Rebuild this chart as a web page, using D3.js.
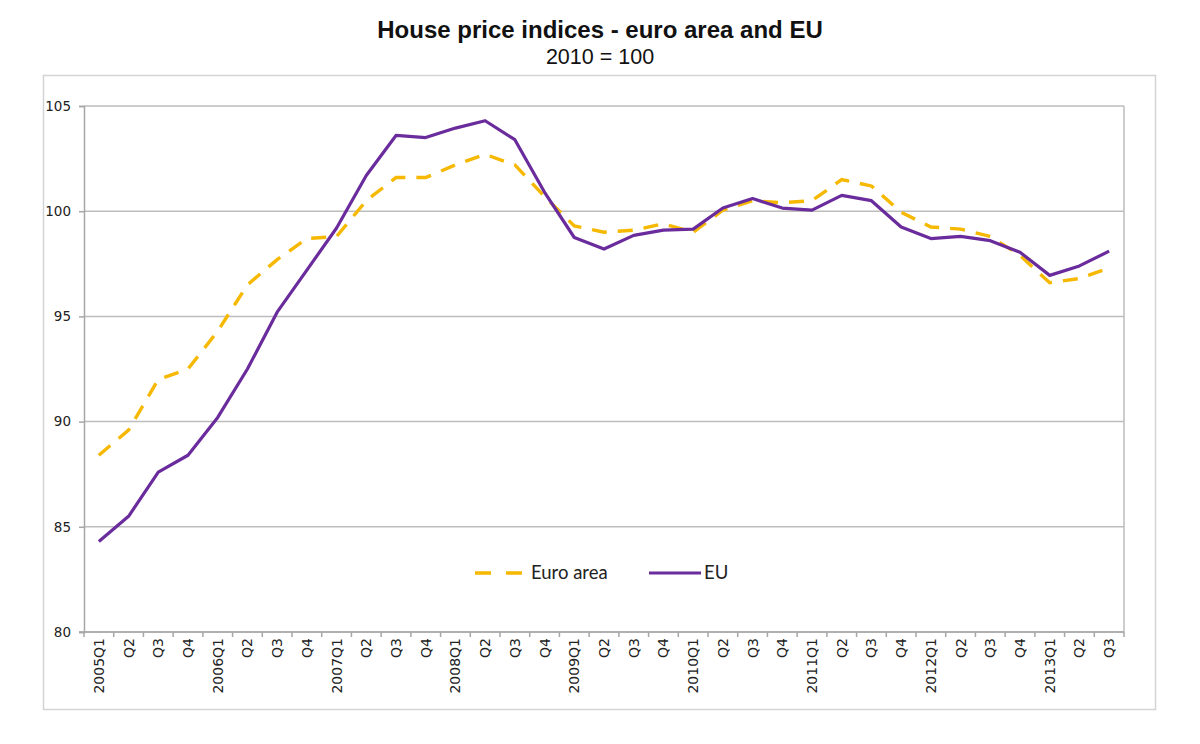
<!DOCTYPE html>
<html>
<head>
<meta charset="utf-8">
<script src="https://cdn.jsdelivr.net/npm/d3@7"></script>
<style>
  body { margin: 0; background: #fff; }
  svg { display: block; }
</style>
</head>
<body>
<div class="chart"></div>
<script>
// quarters 2005Q1 .. 2013Q3
var quarters = ["2005Q1","Q2","Q3","Q4","2006Q1","Q2","Q3","Q4","2007Q1","Q2","Q3","Q4",
  "2008Q1","Q2","Q3","Q4","2009Q1","Q2","Q3","Q4","2010Q1","Q2","Q3","Q4",
  "2011Q1","Q2","Q3","Q4","2012Q1","Q2","Q3","Q4","2013Q1","Q2","Q3"];

var euroArea = [88.4, 89.6, 92.0, 92.5, 94.3, 96.5, 97.7, 98.7, 98.8, 100.5, 101.6, 101.6,
  102.2, 102.7, 102.2, 100.7, 99.3, 99.0, 99.1, 99.4, 99.0, 100.05, 100.5, 100.4,
  100.5, 101.5, 101.2, 99.95, 99.25, 99.15, 98.8, 97.9, 96.6, 96.8, 97.3];

var eu = [84.3, 85.5, 87.6, 88.4, 90.2, 92.5, 95.2, 97.2, 99.2, 101.7, 103.6, 103.5,
  103.95, 104.3, 103.4, 100.9, 98.75, 98.2, 98.85, 99.1, 99.15, 100.15, 100.6, 100.15,
  100.05, 100.75, 100.5, 99.25, 98.7, 98.8, 98.6, 98.05, 96.95, 97.4, 98.1];

var yTicks = [80, 85, 90, 95, 100, 105];

var svgWidth = 1200;
var svgHeight = 744;

var plot = { left: 84, right: 1124, top: 106, bottom: 632 };
var tickFont = "'DejaVu Sans', Verdana, sans-serif";

var svg = d3.select(".chart")
  .append("svg")
  .attr("width", svgWidth)
  .attr("height", svgHeight);

// outer frame
svg.append("rect")
  .attr("x", 43.5).attr("y", 75.5)
  .attr("width", 1112).attr("height", 634)
  .attr("fill", "none")
  .attr("stroke", "#d4d4d4")
  .attr("stroke-width", 1.5);

// titles
svg.append("text")
  .attr("x", 600).attr("y", 38)
  .attr("text-anchor", "middle")
  .style("font-family", "Liberation Sans, Arial, sans-serif")
  .style("font-weight", "bold")
  .style("font-size", "24px")
  .attr("fill", "#111")
  .text("House price indices - euro area and EU");

svg.append("text")
  .attr("x", 600).attr("y", 64)
  .attr("text-anchor", "middle")
  .style("font-family", "Liberation Sans, Arial, sans-serif")
  .style("font-size", "21.5px")
  .attr("fill", "#111")
  .text("2010 = 100");

// scales
var xScale = d3.scaleBand()
  .domain(d3.range(quarters.length))
  .range([plot.left, plot.right])
  .padding(0);

var yScale = d3.scaleLinear()
  .domain([80, 105])
  .range([plot.bottom, plot.top]);

var xCenter = i => xScale(i) + xScale.bandwidth() / 2;

// gridlines
svg.append("g")
  .selectAll("line")
  .data(yTicks)
  .enter()
  .append("line")
  .attr("x1", plot.left).attr("x2", plot.right)
  .attr("y1", d => yScale(d)).attr("y2", d => yScale(d))
  .attr("stroke", "#bdbdbd")
  .attr("stroke-width", 1.5);

// right border of plot
svg.append("line")
  .attr("x1", plot.right).attr("x2", plot.right)
  .attr("y1", plot.top).attr("y2", plot.bottom)
  .attr("stroke", "#bdbdbd")
  .attr("stroke-width", 1.5);

// y axis
var leftAxis = d3.axisLeft(yScale)
  .tickValues(yTicks)
  .tickSize(5)
  .tickPadding(8);

var gy = svg.append("g")
  .attr("transform", `translate(${plot.left}, 0)`)
  .call(leftAxis);
gy.select(".domain").attr("stroke", "#a6a6a6").attr("stroke-width", 1.5);
gy.selectAll(".tick line").attr("stroke", "#a6a6a6").attr("stroke-width", 1.5);
gy.selectAll(".tick text")
  .style("font-family", tickFont)
  .style("font-size", "13.5px")
  .attr("fill", "#222");

// x axis: ticks on band boundaries
var xAxisG = svg.append("g");
xAxisG.append("line")
  .attr("x1", plot.left - 5).attr("x2", plot.right)
  .attr("y1", plot.bottom).attr("y2", plot.bottom)
  .attr("stroke", "#a6a6a6")
  .attr("stroke-width", 1.5);

xAxisG.selectAll(".xtick")
  .data(d3.range(quarters.length + 1))
  .enter()
  .append("line")
  .attr("class", "xtick")
  .attr("x1", d => plot.left + d * xScale.bandwidth())
  .attr("x2", d => plot.left + d * xScale.bandwidth())
  .attr("y1", plot.bottom)
  .attr("y2", plot.bottom + 5)
  .attr("stroke", "#a6a6a6")
  .attr("stroke-width", 1.5);

xAxisG.selectAll(".xlabel")
  .data(quarters)
  .enter()
  .append("text")
  .style("font-family", tickFont)
  .style("font-size", "14px")
  .attr("fill", "#222")
  .attr("text-anchor", "end")
  .attr("transform", (d, i) => `translate(${xCenter(i) + 5}, ${plot.bottom + 6}) rotate(-90)`)
  .text(d => d);

// lines
var line = d3.line()
  .x((d, i) => xCenter(i))
  .y(d => yScale(d));

svg.append("path")
  .datum(euroArea)
  .attr("d", line)
  .attr("fill", "none")
  .attr("stroke", "#f6b800")
  .attr("stroke-width", 3.4)
  .attr("stroke-dasharray", "15,11");

svg.append("path")
  .datum(eu)
  .attr("d", line)
  .attr("fill", "none")
  .attr("stroke", "#6a2c9c")
  .attr("stroke-width", 3.2)
  .attr("stroke-linejoin", "round");

// legend
var legend = svg.append("g")
  .style("font-family", "Lato, 'Open Sans', sans-serif")
  .style("font-size", "18.5px");

legend.append("line")
  .attr("x1", 475).attr("x2", 523)
  .attr("y1", 573).attr("y2", 573)
  .attr("stroke", "#f6b800")
  .attr("stroke-width", 3.4)
  .attr("stroke-dasharray", "16,15");

legend.append("text")
  .attr("x", 531).attr("y", 579)
  .attr("fill", "#222")
  .text("Euro area");

legend.append("line")
  .attr("x1", 649).attr("x2", 701)
  .attr("y1", 573).attr("y2", 573)
  .attr("stroke", "#6a2c9c")
  .attr("stroke-width", 3.2);

legend.append("text")
  .attr("x", 704).attr("y", 579)
  .attr("fill", "#222")
  .text("EU");
</script>
</body>
</html>
